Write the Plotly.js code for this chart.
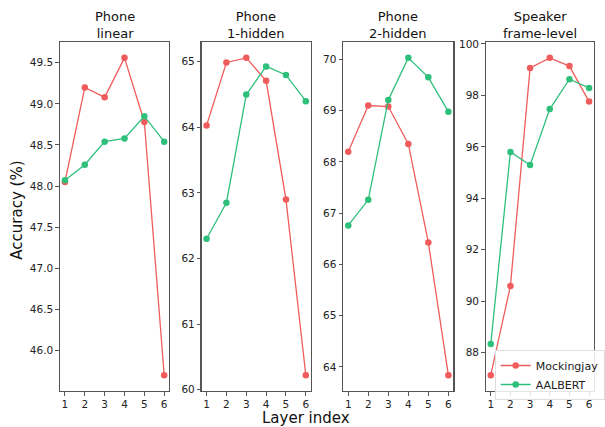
<!DOCTYPE html>
<html>
<head>
<meta charset="utf-8">
<script src="https://cdn.plot.ly/plotly-3.0.1.min.js"></script>
<style>html,body{margin:0;padding:0;background:#fff;}#chart{width:605px;height:427px;}</style>
</head>
<body>
<div id="chart"></div>
<script>
const layers = [1, 2, 3, 4, 5, 6];
const panelTitles = ["Phone<br>linear", "Phone<br>1-hidden", "Phone<br>2-hidden", "Speaker<br>frame-level"];
const seriesNames = ["Mockingjay", "AALBERT"];

const mockLinear = [48.05, 49.20, 49.08, 49.56, 48.78, 45.70];
const aalLinear  = [48.07, 48.26, 48.54, 48.58, 48.85, 48.54];

const mock1Hidden = [64.03, 64.99, 65.06, 64.71, 62.90, 60.22];
const aal1Hidden  = [62.30, 62.85, 64.50, 64.93, 64.80, 64.40];

const mock2Hidden = [68.20, 69.10, 69.08, 68.35, 66.43, 63.84];
const aal2Hidden  = [66.76, 67.26, 69.21, 70.03, 69.65, 68.98];

const mockSpeaker = [87.12, 90.59, 99.07, 99.46, 99.14, 97.76];
const aalSpeaker  = [88.33, 95.80, 95.29, 97.47, 98.63, 98.29];

const mockPanels = [mockLinear, mock1Hidden, mock2Hidden, mockSpeaker];
const aalPanels = [aalLinear, aal1Hidden, aal2Hidden, aalSpeaker];

const colors = ["#f05b5b", "#2ebf7b"];
const W = 605, H = 427;
const pxX = [[61, 172], [205, 316], [349, 461], [494, 604]];
const yTop = 42, yBot = 391;
const dticks = [0.5, 1, 1, 2];
const fmts = [".1f", "d", "d", "d"];

function pad(arrs) {
  const all = [].concat(...arrs);
  const mn = Math.min(...all), mx = Math.max(...all);
  const m = (mx - mn) * 0.05;
  return [mn - m, mx + m];
}

const traces = [];
const layout = {
  width: W, height: H,
  margin: {l: 0, r: 0, t: 0, b: 0},
  paper_bgcolor: "#fff", plot_bgcolor: "#fff",
  font: {family: "DejaVu Sans", color: "#222"},
  showlegend: true,
  legend: {
    x: 503 / W, y: 1 - 350 / H, xanchor: "left", yanchor: "top",
    bgcolor: "rgba(255,255,255,0.85)", bordercolor: "#dddddd", borderwidth: 1,
    font: {family: "DejaVu Sans", size: 11, color: "#222"},
    tracegroupgap: 0, itemwidth: 30
  },
  annotations: []
};

for (let i = 0; i < 4; i++) {
  const sfx = i === 0 ? "" : String(i + 1);
  [mockPanels[i], aalPanels[i]].forEach((vals, s) => {
    traces.push({
      x: layers, y: vals, type: "scatter", mode: "lines+markers",
      name: seriesNames[s], legendgroup: seriesNames[s],
      showlegend: i === 3,
      xaxis: "x" + sfx, yaxis: "y" + sfx,
      line: {color: colors[s], width: 1.3},
      marker: {color: colors[s], size: 6.5}
    });
  });
  const axCommon = {
    showline: true, mirror: true, linecolor: "#555", linewidth: 1.2,
    ticks: "outside", ticklen: 3.5, tickwidth: 1, tickcolor: "#555",
    showgrid: false, zeroline: false,
    tickfont: {family: "DejaVu Sans", size: 10.5, color: "#222"}
  };
  layout["xaxis" + sfx] = Object.assign({}, axCommon, {
    domain: [pxX[i][0] / W, pxX[i][1] / W],
    range: [0.75, 6.25], tickmode: "array", tickvals: layers,
    anchor: "y" + sfx
  });
  layout["yaxis" + sfx] = Object.assign({}, axCommon, {
    domain: [1 - yBot / H, 1 - yTop / H],
    range: pad([mockPanels[i], aalPanels[i]]),
    dtick: dticks[i], tick0: 0, tickformat: fmts[i],
    anchor: "x" + sfx
  });
  layout.annotations.push({
    text: panelTitles[i], xref: "paper", yref: "paper",
    x: (pxX[i][0] + pxX[i][1]) / 2 / W, y: 1 - 25 / H,
    xanchor: "center", yanchor: "middle", showarrow: false,
    font: {family: "DejaVu Sans", size: 13, color: "#111"}
  });
}

layout.annotations.push({
  text: "Layer index", xref: "paper", yref: "paper",
  x: 311 / W, y: 1 - 418 / H, xanchor: "center", yanchor: "middle",
  showarrow: false, font: {family: "DejaVu Sans", size: 15, color: "#111"}
});
layout.annotations.push({
  text: "Accuracy (%)", xref: "paper", yref: "paper",
  x: 17 / W, y: 1 - 210 / H, xanchor: "center", yanchor: "middle",
  textangle: -90, showarrow: false,
  font: {family: "DejaVu Sans", size: 15, color: "#111"}
});

Plotly.newPlot("chart", traces, layout, {displayModeBar: false, staticPlot: true});
</script>
</body>
</html>
